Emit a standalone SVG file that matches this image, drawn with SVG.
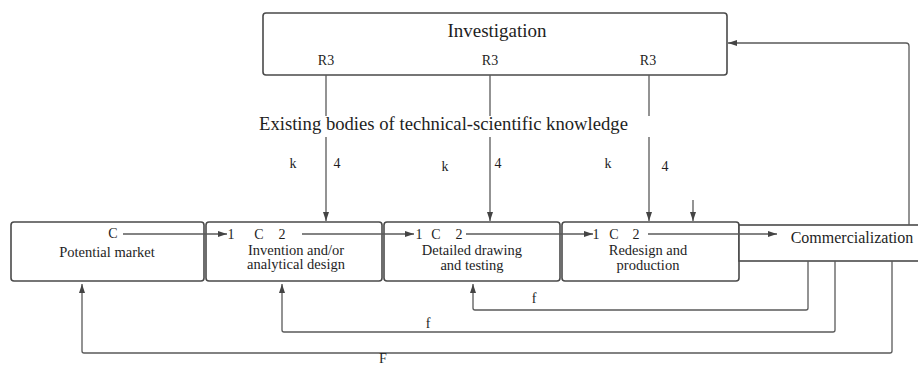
<svg xmlns="http://www.w3.org/2000/svg" width="918" height="367" viewBox="0 0 918 367">
  <defs>
    <marker id="arr" markerUnits="userSpaceOnUse" markerWidth="9" markerHeight="6" refX="9" refY="3" orient="auto">
      <path d="M0,0 L9,3 L0,6 z" fill="#444"/>
    </marker>
    <style>
      .box { fill: #fff; stroke: #4a4a4a; stroke-width: 1.6; }
      .ln { fill: none; stroke: #5a5a5a; stroke-width: 1.3; }
      text { font-family: 'Liberation Serif', 'DejaVu Serif', serif; fill: #1e1e1e; }
      .lbl { font-size: 14.5px; text-anchor: middle; }
      .num { font-size: 14px; text-anchor: middle; }
    </style>
  </defs>

  <rect width="918" height="367" fill="#fff"/>

  <!-- Research box -->
  <g id="investigation">
    <rect class="box" x="263" y="13" width="464" height="62" rx="3"/>
    <text x="497" y="37" font-size="19" text-anchor="middle">Investigation</text>
    <text class="num" x="326" y="65">R3</text>
    <text class="num" x="490" y="65">R3</text>
    <text class="num" x="648" y="65">R3</text>
  </g>

  <!-- Knowledge label -->
  <g id="knowledge">
    <text x="259" y="130" font-size="18.5" textLength="369" lengthAdjust="spacingAndGlyphs">Existing bodies of technical-scientific knowledge</text>
    <text class="num" x="293" y="168">k</text>
    <text class="num" x="337" y="168">4</text>
    <text class="num" x="445" y="171">k</text>
    <text class="num" x="498" y="168">4</text>
    <text class="num" x="608" y="168">k</text>
    <text class="num" x="665" y="171">4</text>
  </g>

  <!-- Process stages -->
  <g id="potential-market">
    <rect class="box" x="11" y="222" width="193" height="59" rx="3"/>
    <text class="num" x="113" y="238">C</text>
    <text class="lbl" x="107" y="257" font-size="15">Potential market</text>
  </g>

  <g id="invention">
    <rect class="box" x="206" y="222" width="176" height="59" rx="3"/>
    <text class="num" x="231" y="239">1</text>
    <text class="num" x="259" y="239">C</text>
    <text class="num" x="282" y="239">2</text>
    <text class="lbl" x="296" y="254.5">Invention and/or</text>
    <text class="lbl" x="296" y="269">analytical design</text>
  </g>

  <g id="detailed-drawing">
    <rect class="box" x="384" y="222" width="176" height="59" rx="3"/>
    <text class="num" x="419" y="239">1</text>
    <text class="num" x="436" y="239">C</text>
    <text class="num" x="459" y="239">2</text>
    <text class="lbl" x="472" y="254.5">Detailed drawing</text>
    <text class="lbl" x="472" y="269.5">and testing</text>
  </g>

  <g id="redesign">
    <rect class="box" x="562" y="222" width="177" height="59" rx="3"/>
    <text class="num" x="596" y="239">1</text>
    <text class="num" x="614" y="239">C</text>
    <text class="num" x="636" y="239">2</text>
    <text class="lbl" x="648" y="255">Redesign and</text>
    <text class="lbl" x="648" y="269.5">production</text>
  </g>

  <g id="commercialization">
    <rect class="box" x="739" y="225" width="190" height="36"/>
    <text x="852" y="243" font-size="16" text-anchor="middle">Commercialization</text>
  </g>

  <!-- Connectors -->
  <g id="connectors">
    <!-- research flows down to stages -->
    <path class="ln" d="M326,75 V116 M326,137 V221" marker-end="url(#arr)"/>
    <path class="ln" d="M490,75 V116 M490,137 V221" marker-end="url(#arr)"/>
    <path class="ln" d="M649,75 V116 M649,137 V221" marker-end="url(#arr)"/>
    <path class="ln" d="M693,200 V221" marker-end="url(#arr)"/>

    <!-- forward chain -->
    <path class="ln" d="M123,234 H227" marker-end="url(#arr)"/>
    <path class="ln" d="M302,234 H414" marker-end="url(#arr)"/>
    <path class="ln" d="M466,234 H593" marker-end="url(#arr)"/>
    <path class="ln" d="M648,234 H777" marker-end="url(#arr)"/>

    <!-- market back to research -->
    <path class="ln" d="M909,225 V46 Q909,43 906,43 H728" marker-end="url(#arr)"/>

    <!-- feedback loops -->
    <path class="ln" d="M808,261 V308 Q808,310 806,310 H475 Q473,310 473,308 V284" marker-end="url(#arr)"/>
    <path class="ln" d="M835,261 V330 Q835,332 833,332 H284 Q282,332 282,330 V284" marker-end="url(#arr)"/>
    <path class="ln" d="M892,261 V351 Q892,353 890,353 H84 Q82,353 82,351 V284" marker-end="url(#arr)"/>
  </g>

  <g id="feedback-labels">
    <text class="num" x="534" y="303">f</text>
    <text class="num" x="428" y="328">f</text>
    <text class="num" x="383" y="363" font-size="12.5">F</text>
  </g>
</svg>
